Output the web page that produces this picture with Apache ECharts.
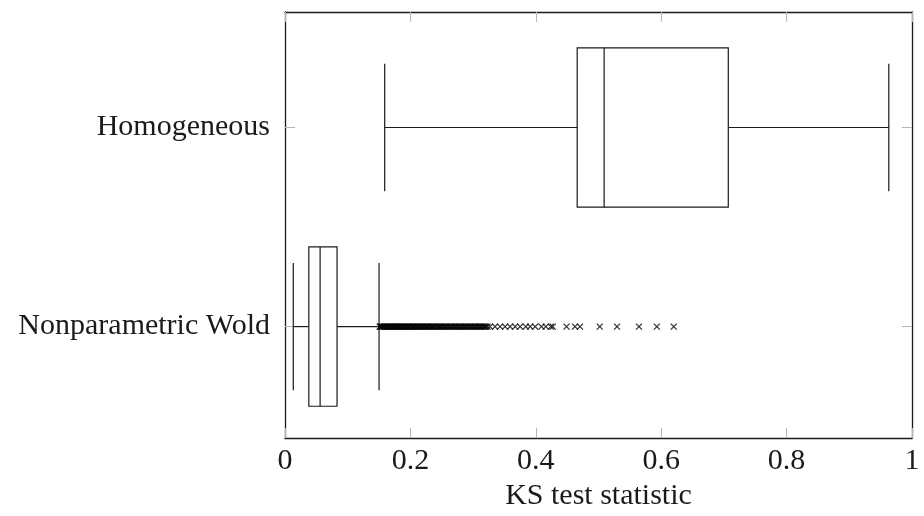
<!DOCTYPE html>
<html>
<head>
<meta charset="utf-8">
<script src="https://cdn.jsdelivr.net/npm/echarts@6/dist/echarts.min.js"></script>
<style>
  html, body { margin: 0; padding: 0; background: #fff; }
  #chart { width: 924px; height: 516px; }
</style>
</head>
<body>
<div id="chart"></div>
<script>
// Row labels and their positions on the vertical axis
const categories = ['Nonparametric Wold', 'Homogeneous'];
const categoryPos = [1, 2];

// Five-number summaries: [lower whisker, Q1, median, Q3, upper whisker]
const nonparametricBox = [0.0132, 0.038, 0.056, 0.083, 0.150];
const homogeneousBox = [0.159, 0.466, 0.509, 0.707, 0.963];

// Outliers beyond the upper whisker (Nonparametric Wold only)
const nonparametricOutliers = [
  0.151, 0.152, 0.154, 0.155, 0.157, 0.158, 0.160, 0.161, 0.163, 0.164,
  0.166, 0.167, 0.169, 0.170, 0.172, 0.173, 0.175, 0.176, 0.178, 0.179,
  0.181, 0.182, 0.184, 0.185, 0.187, 0.188, 0.190, 0.191, 0.193, 0.195,
  0.196, 0.198, 0.199, 0.201, 0.203, 0.204, 0.206, 0.207, 0.209, 0.211,
  0.212, 0.214, 0.216, 0.217, 0.219, 0.221, 0.222, 0.224, 0.226, 0.227,
  0.229, 0.231, 0.233, 0.234, 0.236, 0.238, 0.240, 0.242, 0.244, 0.246,
  0.247, 0.249, 0.251, 0.253, 0.255, 0.257, 0.259, 0.261, 0.263, 0.265,
  0.267, 0.269, 0.271, 0.273, 0.275, 0.277, 0.279, 0.281, 0.283, 0.285,
  0.287, 0.289, 0.291, 0.293, 0.295, 0.297, 0.299, 0.301, 0.303, 0.305,
  0.307, 0.309, 0.311, 0.313, 0.315, 0.317, 0.319, 0.321, 0.323,
  0.327, 0.335, 0.343, 0.351, 0.359, 0.367, 0.375, 0.384, 0.391, 0.399,
  0.409, 0.416, 0.424, 0.427, 0.449, 0.4625, 0.4705, 0.502, 0.5295,
  0.5646, 0.593, 0.620
];

// Axis ticks
const xTicks = [0, 0.2, 0.4, 0.6, 0.8, 1];

const boxData = [
  [categoryPos[0]].concat(nonparametricBox),
  [categoryPos[1]].concat(homogeneousBox)
];
const outlierData = nonparametricOutliers.map(v => [v, categoryPos[0]]);

const FONT = '"Liberation Serif", "DejaVu Serif", serif';
const INK = '#1a1a1a';
const TICK = '#b5b5b5';

function renderBox(params, api) {
  const pos = api.value(0);
  const lo = api.value(1), q1 = api.value(2), med = api.value(3),
        q3 = api.value(4), hi = api.value(5);
  const halfBox = api.size([0, 0.4])[1];
  const halfCap = api.size([0, 0.32])[1];
  const pLo = api.coord([lo, pos]);
  const pQ1 = api.coord([q1, pos]);
  const pMed = api.coord([med, pos]);
  const pQ3 = api.coord([q3, pos]);
  const pHi = api.coord([hi, pos]);
  const cy = pMed[1];
  const style = { stroke: INK, lineWidth: 1.2, fill: null };
  return {
    type: 'group',
    children: [
      { type: 'line', shape: { x1: pLo[0], y1: cy, x2: pQ1[0], y2: cy }, style: style },
      { type: 'line', shape: { x1: pQ3[0], y1: cy, x2: pHi[0], y2: cy }, style: style },
      { type: 'line', shape: { x1: pLo[0], y1: cy - halfCap, x2: pLo[0], y2: cy + halfCap }, style: style },
      { type: 'line', shape: { x1: pHi[0], y1: cy - halfCap, x2: pHi[0], y2: cy + halfCap }, style: style },
      { type: 'rect', shape: { x: pQ1[0], y: cy - halfBox, width: pQ3[0] - pQ1[0], height: 2 * halfBox },
        style: { stroke: INK, lineWidth: 1.2, fill: '#fff' } },
      { type: 'line', shape: { x1: pMed[0], y1: cy - halfBox, x2: pMed[0], y2: cy + halfBox }, style: style }
    ]
  };
}

const chart = echarts.init(document.getElementById('chart'), null, { renderer: 'canvas' });

const frameLine = { show: true, onZero: false, lineStyle: { color: INK, width: 1.3 } };
const innerTick = { show: true, inside: true, length: 10, lineStyle: { color: TICK, width: 1 } };

chart.setOption({
  animation: false,
  backgroundColor: '#fff',
  textStyle: { fontFamily: FONT },
  grid: { left: 285, right: 12, top: 12, bottom: 72, containLabel: false },
  xAxis: [
    {
      type: 'value', position: 'bottom', min: 0, max: 1, interval: 0.2,
      axisLine: frameLine,
      axisTick: innerTick,
      splitLine: { show: false },
      axisLabel: {
        color: INK, fontFamily: FONT, fontSize: 30, margin: 8,
        customValues: xTicks,
        formatter: v => String(Math.round(v * 10) / 10)
      },
      name: 'KS test statistic',
      nameLocation: 'middle',
      nameGap: 42,
      nameTextStyle: { color: INK, fontFamily: FONT, fontSize: 30 }
    },
    {
      type: 'value', position: 'top', min: 0, max: 1, interval: 0.2,
      axisLine: frameLine,
      axisTick: innerTick,
      splitLine: { show: false },
      axisLabel: { show: false }
    }
  ],
  yAxis: [
    {
      type: 'value', position: 'left', min: 0.44, max: 2.58,
      axisLine: frameLine,
      axisTick: Object.assign({ customValues: categoryPos }, innerTick),
      splitLine: { show: false },
      axisLabel: {
        color: INK, fontFamily: FONT, fontSize: 30, margin: 15,
        customValues: categoryPos,
        formatter: v => categories[categoryPos.indexOf(Math.round(v))] || ''
      }
    },
    {
      type: 'value', position: 'right', min: 0.44, max: 2.58,
      axisLine: frameLine,
      axisTick: Object.assign({ customValues: categoryPos }, innerTick),
      splitLine: { show: false },
      axisLabel: { show: false }
    }
  ],
  series: [
    {
      type: 'custom',
      xAxisIndex: 0, yAxisIndex: 0,
      renderItem: renderBox,
      encode: { x: [1, 2, 3, 4, 5], y: 0 },
      data: boxData,
      z: 2
    },
    {
      type: 'scatter',
      xAxisIndex: 0, yAxisIndex: 0,
      symbol: 'path://M0,0L10,10M10,0L0,10',
      symbolSize: 6,
      itemStyle: { color: 'rgba(0,0,0,0)', borderColor: '#000', borderWidth: 1.3 },
      data: outlierData,
      z: 3
    }
  ]
});
</script>
</body>
</html>
